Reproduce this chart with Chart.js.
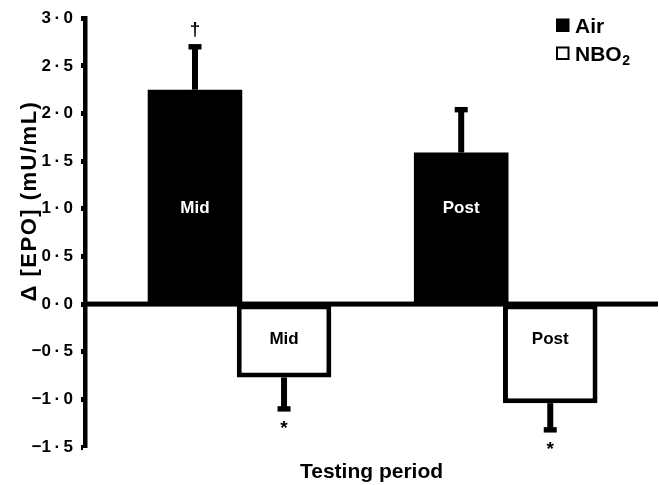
<!DOCTYPE html>
<html>
<head>
<meta charset="utf-8">
<style>
  html, body { margin: 0; padding: 0; background: #fff; }
  #wrap { width: 659px; height: 485px; }
</style>
<script src="https://cdn.jsdelivr.net/npm/chart.js@4/dist/chart.umd.min.js"></script>
</head>
<body>
<div id="wrap"><canvas id="c" width="659" height="485"></canvas></div>
<script>
// Testing periods and change in EPO (mU/mL), mean and SD per condition
const categories = ['Mid', 'Post'];
const airMean = [2.25, 1.59];
const airSD = [0.45, 0.45];
const nbo2Mean = [-0.77, -1.04];
const nbo2SD = [0.33, 0.28];
// significance markers written beyond each error bar
const airMarks = ['†', ''];
const nbo2Marks = ['*', '*'];
const yTickValues = [-1.5, -1.0, -0.5, 0.0, 0.5, 1.0, 1.5, 2.0, 2.5, 3.0];

const FONT = "'Liberation Sans', Arial, Helvetica, sans-serif";
Chart.defaults.font.family = FONT;
Chart.defaults.color = '#000';

function fmtTick(v) {
  const s = Math.abs(v).toFixed(1).replace('.', '\u2009·\u2009');
  return (v < 0 ? '\u2212' : '') + s;
}

// error bars, significance marks, in-bar labels, zero line
const barExtras = {
  id: 'barExtras',
  afterDatasetsDraw(chart) {
    const ctx = chart.ctx;
    const y = chart.scales.y;
    const a = chart.chartArea;
    const sets = [
      { mean: airMean, sd: airSD, marks: airMarks, labelAt: 1.0, labelColor: '#fff' },
      { mean: nbo2Mean, sd: nbo2SD, marks: nbo2Marks, labelAt: -0.37, labelColor: '#000' }
    ];
    // zero reference line across the plot
    const y0 = y.getPixelForValue(0);
    ctx.save();
    ctx.fillStyle = '#000';
    ctx.fillRect(a.left, y0 - 2.5, a.right - a.left, 5);
    ctx.restore();

    sets.forEach((s, di) => {
      const meta = chart.getDatasetMeta(di);
      meta.data.forEach((el, i) => {
        const m = s.mean[i];
        const dir = m >= 0 ? 1 : -1;
        const yEnd = y.getPixelForValue(m + dir * s.sd[i]);
        const yBar = y.getPixelForValue(m);
        ctx.save();
        ctx.fillStyle = '#000';
        // stem
        ctx.fillRect(el.x - 3, Math.min(yBar, yEnd), 6, Math.abs(yBar - yEnd));
        // cap
        ctx.fillRect(el.x - 6.5, yEnd - 2.7, 13, 5.4);
        // marker
        if (s.marks[i]) {
          ctx.font = 'bold 19px ' + FONT;
          ctx.textAlign = 'center';
          if (dir > 0) {
            ctx.textBaseline = 'middle';
            ctx.fillText(s.marks[i], el.x, yEnd - 17);
          } else {
            ctx.textBaseline = 'top';
            ctx.fillText(s.marks[i], el.x, yEnd + 10);
          }
        }
        // label inside the bar
        ctx.font = 'bold 17px ' + FONT;
        ctx.textAlign = 'center';
        ctx.textBaseline = 'middle';
        ctx.fillStyle = s.labelColor;
        ctx.fillText(categories[i], el.x, y.getPixelForValue(s.labelAt));
        ctx.restore();
      });
    });
  },
  afterDraw(chart) {
    const ctx = chart.ctx;
    const a = chart.chartArea;
    ctx.save();
    // y-axis title
    ctx.translate(30, 201);
    ctx.rotate(-Math.PI / 2);
    ctx.font = 'bold 22px ' + FONT;
    if ('letterSpacing' in ctx) ctx.letterSpacing = '1.5px';
    ctx.textAlign = 'center';
    ctx.textBaseline = 'middle';
    ctx.fillStyle = '#000';
    ctx.fillText('\u0394 [EPO] (mU/mL)', 0, 0);
    ctx.restore();

    // legend
    ctx.save();
    const lx = a.right - 102;
    ctx.fillStyle = '#000';
    ctx.fillRect(lx, 18.5, 13.5, 13.5);
    ctx.lineWidth = 2;
    ctx.strokeStyle = '#000';
    ctx.strokeRect(lx + 1, 47.5, 11.5, 11.5);
    ctx.font = 'bold 21px ' + FONT;
    ctx.textAlign = 'left';
    ctx.textBaseline = 'alphabetic';
    ctx.fillText(chart.data.datasets[0].label, lx + 19, 32.5);
    const base = 'NBO';
    ctx.fillText(base, lx + 19, 60.5);
    const w = ctx.measureText(base).width;
    ctx.font = 'bold 14px ' + FONT;
    ctx.fillText('2', lx + 19 + w + 0.5, 64.5);
    ctx.restore();
  }
};

new Chart(document.getElementById('c'), {
  type: 'bar',
  data: {
    datasets: [
      {
        label: 'Air',
        data: categories.map((c, i) => ({ x: i, y: airMean[i] })),
        backgroundColor: '#000',
        borderWidth: 0,
        barPercentage: 1.062,
        categoryPercentage: 0.669
      },
      {
        label: 'NBO2',
        data: categories.map((c, i) => ({ x: i, y: nbo2Mean[i] })),
        backgroundColor: '#fff',
        borderColor: '#000',
        borderWidth: 5,
        borderSkipped: false,
        barPercentage: 1.062,
        categoryPercentage: 0.669
      }
    ]
  },
  options: {
    responsive: false,
    animation: false,
    devicePixelRatio: 1,
    layout: { padding: { left: 0, right: 1, top: 16, bottom: 0 } },
    plugins: {
      legend: { display: false },
      tooltip: { enabled: false }
    },
    scales: {
      x: {
        type: 'linear',
        offset: false,
        min: -0.5804,
        max: 1.572,
        afterBuildTicks: s => { s.ticks = categories.map((c, i) => ({ value: i })); },
        afterFit: s => { s.height = 38; },
        ticks: { display: false },
        grid: { display: false },
        border: { display: false },
        title: {
          display: true,
          text: 'Testing period',
          font: { size: 21, weight: 'bold' },
          padding: { top: 0, bottom: 0 }
        }
      },
      y: {
        min: -1.5,
        max: 3,
        afterFit: s => { s.width = 85; },
        afterBuildTicks: s => { s.ticks = yTickValues.map(v => ({ value: v })); },
        ticks: {
          font: { size: 17, weight: 'bold' },
          color: '#000',
          padding: 8,
          callback: v => fmtTick(v)
        },
        grid: {
          drawOnChartArea: false,
          tickColor: '#000',
          tickWidth: 5,
          tickLength: 4
        },
        border: { display: true, color: '#000', width: 4.5 }
      }
    }
  },
  plugins: [barExtras]
});
</script>
</body>
</html>
